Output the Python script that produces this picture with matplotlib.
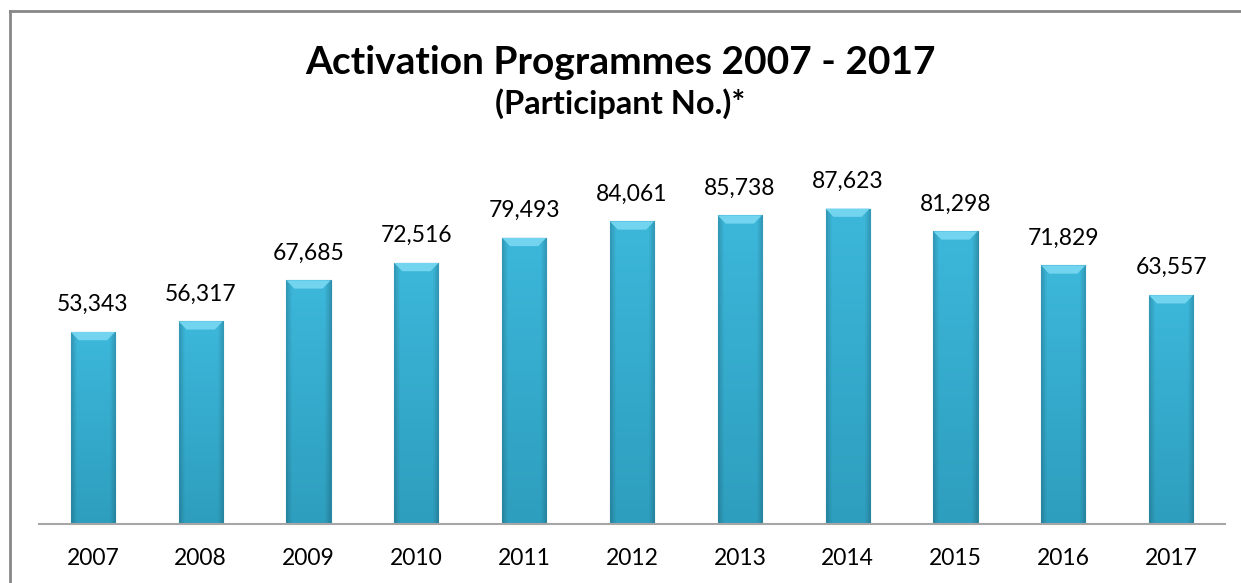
import matplotlib.pyplot as plt
from matplotlib.lines import Line2D
import numpy as np

years = ['2007', '2008', '2009', '2010', '2011', '2012', '2013', '2014', '2015', '2016', '2017']
participants = [53343, 56317, 67685, 72516, 79493, 84061, 85738, 87623, 81298, 71829, 63557]

plt.rcParams['font.family'] = ['Lato', 'DejaVu Sans']

fig = plt.figure(figsize=(12.41, 5.83), dpi=100)
W, H = 1241, 583

# outer chart border (left and top visible)
fig.add_artist(Line2D([10 / W, 10 / W], [0, 1 - 11 / H], transform=fig.transFigure, color='#878787', lw=2))
fig.add_artist(Line2D([10 / W, 1], [1 - 11 / H, 1 - 11 / H], transform=fig.transFigure, color='#878787', lw=2))

ax = fig.add_axes([39 / W, 59 / H, (1225 - 39) / W, (524 - 164) / H])
x = np.arange(len(years))
bars = ax.bar(x, participants, width=0.41, color='#37AFD2', edgecolor='#2A8BA8', linewidth=0.8, zorder=2)

# shaded fill: a bit lighter at top, darker at the sides
top = np.array([60, 183, 218]) / 255
bot = np.array([46, 158, 190]) / 255
ny, nx = 60, 24
t = np.linspace(0, 1, ny)[:, None]
u = np.linspace(0, 1, nx)[None, :]
side = 1 - 0.16 * (np.clip(1 - np.minimum(u, 1 - u) / 0.12, 0, 1))
img = (bot[None, None, :] * (1 - t[..., None]) + top[None, None, :] * t[..., None]) * side[..., None]
img = np.clip(img, 0, 1)
for b in bars:
    x0, w, h = b.get_x(), b.get_width(), b.get_height()
    im = ax.imshow(img, extent=[x0, x0 + w, 0, h], origin='lower', aspect='auto', zorder=2.5)
    im.set_clip_path(b)
    # light bevel on top
    cap = 2300
    ax.fill([x0, x0 + w, x0 + w * 0.82, x0 + w * 0.18], [h, h, h - cap, h - cap],
            color='#72D4EE', lw=0, zorder=3)

for xi, v in zip(x, participants):
    ax.text(xi, v + 5800, f'{v:,}', ha='center', va='baseline', fontsize=16.5, color='#000000')

ax.set_xlim(-0.5, len(years) - 0.5)
ax.set_ylim(0, 100000)
ax.set_xticks(x)
ax.set_xticklabels(years, fontsize=16.5)
ax.tick_params(axis='x', length=0, pad=17)
ax.set_yticks([])
for s in ['top', 'right', 'left']:
    ax.spines[s].set_visible(False)
ax.spines['bottom'].set_color('#A6A6A6')
ax.spines['bottom'].set_linewidth(1.5)
ax.spines['bottom'].set_zorder(4)

fig.text(0.5, 1 - 63 / H, 'Activation Programmes 2007 - 2017', ha='center', va='center',
         fontsize=28, fontweight='bold')
fig.text(0.5, 1 - 104 / H, '(Participant No.)*', ha='center', va='center',
         fontsize=23.5, fontweight='bold')

fig.savefig('out.png', dpi=100)
